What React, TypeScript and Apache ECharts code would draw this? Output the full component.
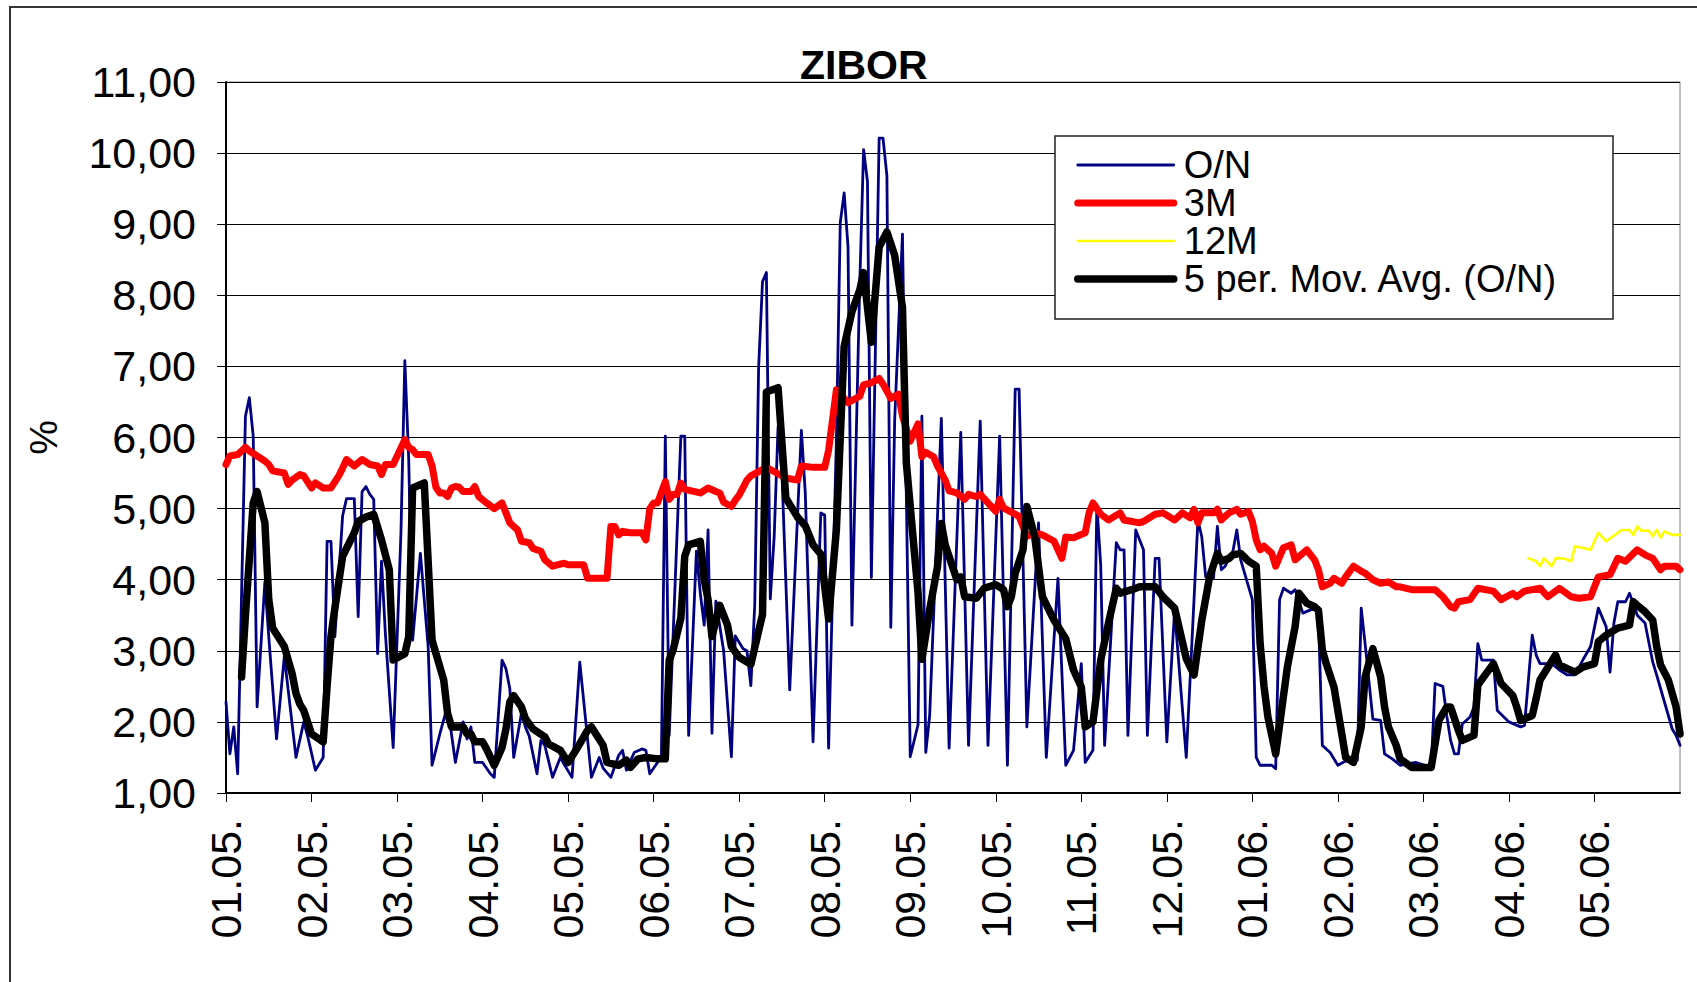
import React, { useEffect, useRef } from "react";
import * as echarts from "echarts";

// x unit: trading-day index (22 units per month tick), 0 = start of Jan 2005
const monthLabels = [
  "01.05.", "02.05.", "03.05.", "04.05.", "05.05.", "06.05.", "07.05.", "08.05.", "09.05.",
  "10.05.", "11.05.", "12.05.", "01.06.", "02.06.", "03.06.", "04.06.", "05.06.",
];
const yTickLabels = ["1,00", "2,00", "3,00", "4,00", "5,00", "6,00", "7,00", "8,00", "9,00", "10,00", "11,00"];
const seriesNames = ["O/N", "3M", "12M", "5 per. Mov. Avg. (O/N)"];
const seriesColors = ["#000080", "#ff0000", "#ffff00", "#000000"];
const seriesWidths = [2.8, 7, 2.6, 7.5];

const onData: [number, number][] = [
  [0, 2.28], [1, 1.55], [2, 1.93], [3, 1.27], [5, 6.3], [6, 6.56], [7, 6.02], [8, 2.21], [10, 3.97], [11, 3.2],
  [13, 1.76], [15, 2.92], [18, 1.5], [20, 2.0], [21, 1.8], [23, 1.32], [25, 1.5], [26, 4.54], [27, 4.54], [28, 3.2],
  [30, 4.9], [31, 5.14], [33, 5.14], [34, 3.48], [35, 5.24], [36, 5.31], [37, 5.2], [38, 5.13], [39, 2.96], [40, 4.26],
  [41, 3.24], [43, 1.64], [45, 4.66], [46, 7.08], [47, 5.69], [48, 3.15], [50, 4.37], [52, 3.06], [53, 1.39], [55, 1.83],
  [57, 2.23], [59, 1.43], [61, 2.0], [62, 1.76], [63, 1.93], [64, 1.43], [66, 1.43], [68, 1.27], [69, 1.22], [71, 2.87],
  [72, 2.75], [73, 2.47], [74, 1.5], [76, 2.12], [77, 1.93], [78, 1.8], [80, 1.27], [81, 1.74], [82, 1.67], [84, 1.22],
  [86, 1.5], [87, 1.4], [89, 1.22], [91, 2.84], [92, 2.3], [94, 1.22], [96, 1.5], [97, 1.35], [99, 1.22], [101, 1.53],
  [102, 1.6], [103, 1.32], [105, 1.57], [107, 1.62], [108, 1.6], [109, 1.27], [111, 1.43], [112, 1.53], [113, 6.02], [114, 1.81],
  [117, 6.02], [118, 6.02], [119, 1.81], [121, 4.4], [122, 3.81], [123, 3.36], [124, 4.7], [125, 1.84], [126, 3.7], [128, 3.0],
  [130, 1.51], [131, 3.21], [133, 3.03], [134, 3.0], [135, 2.51], [136, 3.64], [137, 6.98], [138, 8.19], [139, 8.32], [140, 3.73],
  [141, 4.6], [142, 6.15], [143, 5.5], [145, 2.45], [148, 6.1], [149, 5.22], [151, 1.72], [153, 4.94], [154, 4.91], [155, 1.63],
  [157, 5.95], [158, 9.02], [159, 9.44], [160, 8.68], [161, 3.36], [163, 8.13], [164, 10.05], [165, 9.6], [166, 4.03], [168, 10.21],
  [169, 10.21], [170, 9.68], [171, 3.33], [172, 6.25], [174, 8.86], [176, 1.51], [178, 1.96], [179, 6.3], [180, 1.57], [181, 2.09],
  [184, 6.27], [186, 1.63], [189, 6.07], [191, 1.67], [194, 6.23], [196, 1.67], [199, 6.02], [201, 1.39], [203, 6.68], [204, 6.68],
  [206, 1.93], [209, 4.8], [211, 1.5], [214, 4.02], [216, 1.39], [218, 1.6], [220, 2.82], [221, 1.43], [223, 1.6], [224, 5.06],
  [225, 4.2], [226, 1.67], [229, 4.52], [230, 4.42], [231, 4.42], [232, 1.81], [234, 4.7], [236, 4.42], [237, 1.81], [239, 4.3],
  [240, 4.3], [242, 1.72], [244, 3.57], [247, 1.5], [250, 4.84], [251, 4.6], [252, 4.04], [254, 4.02], [255, 4.75], [256, 4.14],
  [257, 4.19], [259, 4.4], [260, 4.7], [261, 4.28], [264, 3.72], [265, 1.5], [266, 1.39], [269, 1.39], [270, 1.34], [271, 3.72],
  [272, 3.88], [274, 3.81], [275, 3.86], [277, 3.53], [280, 3.6], [281, 3.48], [282, 1.67], [284, 1.57], [286, 1.39], [288, 1.45],
  [291, 1.46], [292, 3.6], [293, 3.1], [295, 2.04], [297, 2.02], [298, 1.55], [300, 1.48], [302, 1.39], [306, 1.43], [310, 1.36],
  [311, 2.54], [313, 2.5], [314, 2.09], [315, 1.74], [316, 1.55], [317, 1.55], [318, 1.97], [320, 2.07], [321, 2.21], [322, 3.1],
  [323, 2.87], [326, 2.87], [327, 2.16], [330, 2.0], [333, 1.93], [334, 1.95], [336, 3.22], [337, 2.94], [338, 2.82], [341, 2.82],
  [343, 2.73], [345, 2.66], [347, 2.66], [349, 2.87], [351, 3.06], [353, 3.6], [355, 3.34], [356, 2.7], [357, 3.39], [358, 3.69],
  [360, 3.69], [361, 3.81], [362, 3.67], [363, 3.5], [365, 3.39], [367, 2.84], [368, 2.66], [372, 1.9], [373, 1.81], [374, 1.67],
];

const m3Data: [number, number][] = [
  [0, 5.62], [1, 5.74], [3, 5.76], [5, 5.86], [6, 5.81], [8, 5.74], [10, 5.67], [11, 5.62], [12, 5.53], [15, 5.5],
  [16, 5.34], [17, 5.4], [19, 5.48], [20, 5.46], [22, 5.29], [23, 5.36], [25, 5.29], [27, 5.29], [29, 5.46], [30, 5.57],
  [31, 5.69], [33, 5.6], [35, 5.69], [37, 5.62], [39, 5.6], [40, 5.48], [41, 5.62], [43, 5.62], [46, 5.97], [47, 5.86],
  [48, 5.83], [49, 5.76], [52, 5.76], [53, 5.6], [54, 5.3], [55, 5.22], [56, 5.22], [57, 5.17], [58, 5.29], [59, 5.31],
  [60, 5.3], [61, 5.24], [63, 5.24], [64, 5.31], [65, 5.17], [67, 5.08], [69, 5.0], [71, 5.08], [72, 4.94], [73, 4.8],
  [75, 4.7], [76, 4.54], [78, 4.52], [79, 4.44], [81, 4.4], [82, 4.28], [84, 4.19], [86, 4.22], [87, 4.23], [88, 4.21],
  [92, 4.21], [93, 4.02], [98, 4.02], [99, 4.75], [100, 4.75], [101, 4.63], [102, 4.68], [104, 4.66], [107, 4.66], [108, 4.56],
  [109, 5.0], [110, 5.08], [111, 5.08], [113, 5.38], [114, 5.13], [115, 5.2], [116, 5.2], [117, 5.36], [118, 5.27], [122, 5.22],
  [124, 5.29], [126, 5.24], [127, 5.22], [128, 5.09], [130, 5.03], [131, 5.12], [132, 5.19], [134, 5.4], [135, 5.46], [137, 5.52],
  [139, 5.58], [140, 5.55], [142, 5.49], [144, 5.43], [147, 5.4], [148, 5.6], [151, 5.58], [154, 5.58], [155, 5.82], [157, 6.67],
  [160, 6.49], [163, 6.58], [164, 6.74], [166, 6.77], [168, 6.83], [169, 6.75], [171, 6.55], [173, 6.61], [174, 6.3], [176, 5.95],
  [177, 6.07], [178, 6.19], [179, 5.73], [180, 5.79], [182, 5.73], [183, 5.6], [185, 5.4], [186, 5.25], [188, 5.22], [190, 5.13],
  [191, 5.2], [193, 5.17], [194, 5.2], [196, 5.08], [198, 4.96], [199, 5.13], [200, 5.01], [204, 4.89], [206, 4.61], [208, 4.66],
  [210, 4.63], [213, 4.54], [215, 4.3], [216, 4.6], [218, 4.59], [221, 4.66], [222, 4.94], [223, 5.08], [225, 4.92], [227, 4.84],
  [230, 4.94], [231, 4.84], [235, 4.8], [236, 4.82], [239, 4.92], [241, 4.94], [244, 4.84], [246, 4.94], [248, 4.87], [249, 4.99],
  [250, 4.8], [251, 4.94], [252, 4.94], [254, 4.94], [255, 4.99], [256, 4.84], [258, 4.94], [260, 4.99], [261, 4.92], [263, 4.96],
  [264, 4.82], [265, 4.56], [266, 4.42], [267, 4.47], [269, 4.37], [270, 4.19], [272, 4.45], [274, 4.49], [275, 4.28], [278, 4.42],
  [280, 4.28], [281, 4.14], [282, 3.9], [284, 3.95], [285, 4.02], [287, 3.95], [288, 4.04], [290, 4.19], [292, 4.12], [293, 4.09],
  [295, 4.0], [297, 3.95], [299, 3.97], [301, 3.9], [302, 3.9], [305, 3.86], [311, 3.86], [313, 3.76], [315, 3.62], [316, 3.6],
  [317, 3.69], [320, 3.72], [322, 3.88], [326, 3.84], [328, 3.72], [331, 3.81], [332, 3.76], [334, 3.84], [336, 3.86], [338, 3.88],
  [340, 3.76], [343, 3.88], [346, 3.76], [348, 3.74], [351, 3.76], [353, 4.04], [356, 4.07], [358, 4.3], [360, 4.26], [363, 4.42],
  [365, 4.35], [367, 4.3], [369, 4.14], [370, 4.19], [373, 4.19], [374, 4.14],
];

const m12Data: [number, number][] = [
  [335, 4.3], [337, 4.26], [338, 4.19], [339, 4.3], [341, 4.19], [342, 4.3], [344, 4.3], [346, 4.26], [347, 4.47], [351, 4.42],
  [353, 4.66], [355, 4.54], [359, 4.7], [361, 4.7], [362, 4.63], [363, 4.75], [364, 4.69], [366, 4.69], [367, 4.61], [368, 4.7],
  [369, 4.59], [370, 4.68], [372, 4.63], [374, 4.63],
];

const maData: [number, number][] = [
  [4, 2.63], [5, 3.5], [7, 5.08], [8, 5.24], [10, 4.8], [11, 3.72], [12, 3.32], [15, 3.06], [17, 2.68], [18, 2.4],
  [19, 2.25], [20, 2.16], [22, 1.83], [25, 1.72], [26, 2.5], [27, 3.2], [28, 3.6], [30, 4.33], [33, 4.66], [34, 4.82],
  [36, 4.88], [38, 4.92], [40, 4.56], [42, 4.14], [43, 2.87], [46, 2.96], [47, 3.2], [48, 5.29], [51, 5.36], [53, 3.15],
  [56, 2.59], [57, 2.12], [58, 1.93], [61, 1.93], [62, 1.83], [63, 1.83], [64, 1.72], [66, 1.72], [67, 1.62], [69, 1.39],
  [71, 1.64], [72, 1.9], [73, 2.28], [74, 2.37], [76, 2.21], [77, 2.05], [78, 1.97], [79, 1.9], [82, 1.79], [83, 1.69],
  [86, 1.6], [88, 1.43], [90, 1.6], [93, 1.88], [94, 1.93], [97, 1.67], [98, 1.43], [101, 1.39], [103, 1.46], [104, 1.36],
  [106, 1.48], [108, 1.5], [111, 1.48], [113, 1.48], [114, 2.87], [115, 3.01], [117, 3.46], [118, 4.33], [119, 4.49], [122, 4.54],
  [123, 4.0], [124, 3.72], [125, 3.2], [127, 3.64], [129, 3.36], [130, 3.06], [132, 2.91], [135, 2.81], [138, 3.51], [139, 6.64],
  [142, 6.7], [144, 5.15], [147, 4.88], [149, 4.76], [151, 4.49], [153, 4.36], [155, 3.45], [157, 4.7], [159, 7.28], [161, 7.77],
  [163, 8.07], [164, 8.32], [166, 7.34], [168, 8.68], [170, 8.89], [172, 8.56], [174, 7.83], [175, 5.64], [178, 3.82], [179, 2.88],
  [181, 3.58], [183, 4.18], [184, 4.79], [185, 4.49], [188, 4.0], [189, 4.04], [190, 3.76], [193, 3.74], [195, 3.88], [198, 3.93],
  [200, 3.86], [201, 3.62], [202, 3.76], [203, 4.09], [205, 4.42], [206, 5.03], [208, 4.61], [210, 3.76], [213, 3.43], [216, 3.17],
  [218, 2.73], [220, 2.49], [221, 1.93], [223, 2.0], [225, 2.87], [227, 3.39], [229, 3.88], [230, 3.81], [233, 3.86], [235, 3.9],
  [239, 3.9], [241, 3.76], [244, 3.6], [247, 2.89], [249, 2.66], [251, 3.43], [253, 4.04], [255, 4.37], [256, 4.26], [258, 4.3],
  [259, 4.35], [261, 4.37], [263, 4.26], [265, 4.19], [266, 3.1], [267, 2.5], [268, 2.07], [270, 1.55], [273, 2.77], [275, 3.34],
  [276, 3.81], [278, 3.67], [280, 3.62], [281, 3.57], [282, 3.01], [283, 2.82], [285, 2.49], [287, 1.83], [288, 1.5], [290, 1.43],
  [292, 1.93], [293, 2.63], [295, 3.03], [297, 2.63], [298, 2.21], [299, 1.93], [301, 1.67], [302, 1.48], [305, 1.36], [310, 1.36],
  [312, 2.02], [314, 2.21], [315, 2.21], [317, 1.88], [318, 1.74], [321, 1.81], [322, 2.52], [326, 2.82], [328, 2.54], [331, 2.37],
  [332, 2.21], [333, 2.02], [336, 2.09], [337, 2.33], [338, 2.59], [342, 2.94], [343, 2.8], [345, 2.75], [347, 2.7], [349, 2.77],
  [352, 2.82], [353, 3.13], [355, 3.22], [358, 3.32], [361, 3.36], [362, 3.69], [363, 3.64], [365, 3.55], [367, 3.43], [368, 3.06],
  [369, 2.8], [371, 2.59], [373, 2.21], [374, 1.83],
];

const UNITS_PER_MONTH = 22;
const FONT = '"Liberation Sans", Arial, sans-serif';

export default function App() {
  const ref = useRef<HTMLDivElement>(null);

  useEffect(() => {
    document.body.style.margin = "0";
    document.body.style.overflow = "hidden";
    if (!ref.current) return;
    const chart = echarts.init(ref.current, undefined, { renderer: "svg" });
    const seriesData = [onData, m3Data, m12Data, maData];
    chart.setOption({
      animation: false,
      backgroundColor: "#ffffff",
      textStyle: { fontFamily: FONT, color: "#000" },
      title: {
        text: "ZIBOR",
        left: 800,
        top: 44,
        padding: 0,
        textStyle: { fontSize: 41, fontWeight: "bold", color: "#000", fontFamily: FONT },
      },
      graphic: [
        {
          type: "rect",
          shape: { x: 10, y: 7, width: 2000, height: 2000 },
          style: { fill: "none", stroke: "#333", lineWidth: 2 },
          silent: true,
          z: 1,
        },
        {
          type: "rect",
          shape: { x: 1055, y: 136, width: 558, height: 183 },
          style: { fill: "#fff", stroke: "#222", lineWidth: 1.5 },
          silent: true,
          z: 10,
        },
      ],
      legend: {
        data: seriesNames.map((name, i) => ({
          name,
          lineStyle: { width: seriesWidths[i], color: seriesColors[i] },
        })),
        orient: "vertical",
        left: 1074,
        top: 146,
        padding: 0,
        itemGap: 0,
        itemWidth: 96,
        itemHeight: 2,
        z: 11,
        itemStyle: { opacity: 0, borderWidth: 0 },
        textStyle: { fontSize: 38, lineHeight: 38, color: "#000", fontFamily: FONT, padding: [0, 0, 0, 5] },
      },
      grid: {
        left: 226,
        top: 82,
        width: 1454,
        height: 711,
        show: true,
        borderColor: "#808080",
        borderWidth: 1,
      },
      xAxis: {
        type: "value",
        min: 0,
        max: monthLabels.length * UNITS_PER_MONTH,
        interval: UNITS_PER_MONTH,
        axisLine: { show: true, lineStyle: { color: "#000", width: 2 } },
        axisTick: { show: true, inside: false, length: 9, lineStyle: { color: "#000", width: 1 } },
        splitLine: { show: false },
        axisLabel: {
          rotate: 90,
          margin: 26,
          fontSize: 43,
          color: "#000",
          fontFamily: FONT,
          showMaxLabel: false,
          formatter: (v: number) => monthLabels[Math.round(v / UNITS_PER_MONTH)] ?? "",
        },
      },
      yAxis: {
        type: "value",
        min: 1,
        max: 11,
        interval: 1,
        name: "%",
        nameLocation: "middle",
        nameRotate: 90,
        nameGap: 163,
        nameTextStyle: { fontSize: 39, color: "#000", fontFamily: FONT },
        axisLine: { show: true, lineStyle: { color: "#000", width: 2 } },
        axisTick: { show: true, inside: false, length: 9, lineStyle: { color: "#000", width: 1 } },
        splitLine: { show: true, lineStyle: { color: "#000", width: 1 } },
        axisLabel: {
          margin: 30,
          fontSize: 43,
          color: "#000",
          fontFamily: FONT,
          formatter: (v: number) => yTickLabels[Math.round(v - 1)] ?? "",
        },
      },
      series: seriesNames.map((name, i) => ({
        type: "line",
        name,
        data: seriesData[i],
        symbol: "none",
        showSymbol: false,
        smooth: false,
        z: 2 + i,
        lineStyle: { color: seriesColors[i], width: seriesWidths[i], join: "round", cap: "round" },
        itemStyle: { color: seriesColors[i] },
      })),
    });
    return () => chart.dispose();
  }, []);

  return (
    <div
      ref={ref}
      style={{ position: "absolute", left: 0, top: 0, width: 1697, height: 982, background: "#fff" }}
    />
  );
}
